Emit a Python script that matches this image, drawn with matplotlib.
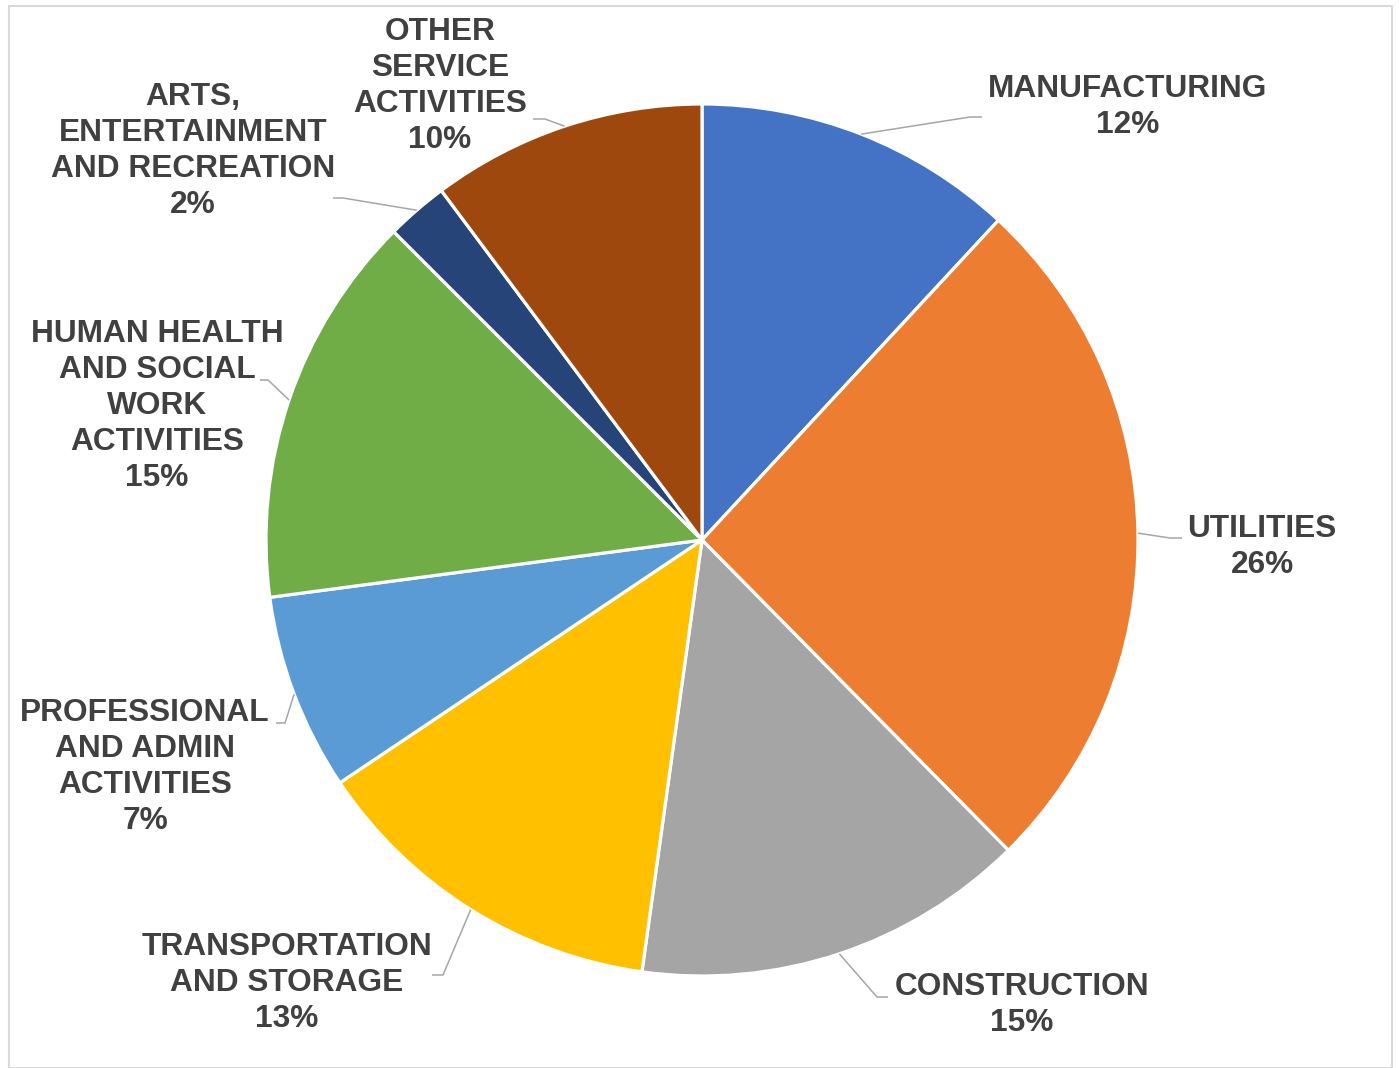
import numpy as np
import matplotlib
matplotlib.use("Agg")
import matplotlib.pyplot as plt
from matplotlib.patches import Rectangle

categories = ["MANUFACTURING", "UTILITIES", "CONSTRUCTION", "TRANSPORTATION\nAND STORAGE",
              "PROFESSIONAL\nAND ADMIN\nACTIVITIES", "HUMAN HEALTH\nAND SOCIAL\nWORK\nACTIVITIES",
              "ARTS,\nENTERTAINMENT\nAND RECREATION", "OTHER\nSERVICE\nACTIVITIES"]
values = [11.9, 25.7, 14.6, 13.4, 7.3, 14.6, 2.3, 10.2]
colors = ["#4472C4", "#ED7D31", "#A5A5A5", "#FFC000", "#5B9BD5", "#70AD47", "#264478", "#9E480E"]

W, H = 1399, 1068
fig = plt.figure(figsize=(W / 100, H / 100), dpi=100)
ax = fig.add_axes([0, 0, 1, 1])
ax.set_xlim(0, W)
ax.set_ylim(0, H)
ax.set_aspect("equal")
ax.axis("off")

cx, cy, R = 702, H - 540, 436
wedges, _ = ax.pie(values, colors=colors, startangle=90, counterclock=False,
                   center=(cx, cy), radius=R,
                   wedgeprops=dict(edgecolor="white", linewidth=2.3))
ax.set_xlim(0, W)
ax.set_ylim(0, H)

# label layout (pixel positions, y from top): center, elbow point, end point
layout = [
    ((1128, 107), (970, 117), (982, 117)),
    ((1262, 547), (1170, 538), (1182, 538)),
    ((1022, 1005), (877, 997), (888, 997)),
    ((287, 983), (443, 975), (432, 975)),
    ((145, 767), (285, 723), (276, 723)),
    ((157, 406), (268, 380), (260, 380)),
    ((193, 151), (343, 198), (333, 198)),
    ((440, 86), (545, 119), (533, 119)),
]

total = sum(values)
cum = 0
for cat, v, (c, elbow, end) in zip(categories, values, layout):
    mid = (cum + v / 2) / total * 360
    cum += v
    theta = np.deg2rad(90 - mid)
    sx, sy = cx + R * np.cos(theta), cy + R * np.sin(theta)
    ax.plot([sx, elbow[0], end[0]], [sy, H - elbow[1], H - end[1]],
            color="#A6A6A6", lw=1.1, solid_capstyle="butt", zorder=1)
    pct = f"{round(v / total * 100):d}%"
    ax.text(c[0], H - c[1], f"{cat}\n{pct}", ha="center", va="center",
            multialignment="center", fontsize=22.8, fontweight="bold",
            family="Liberation Sans", color="#404040", linespacing=1.25)

fig.patches.append(Rectangle((9 / W, 0), (1392 - 9) / W, (H - 6) / H,
                             transform=fig.transFigure, fill=False,
                             edgecolor="#D9D9D9", lw=1.5))

fig.savefig("out.png", dpi=100, facecolor="white")
